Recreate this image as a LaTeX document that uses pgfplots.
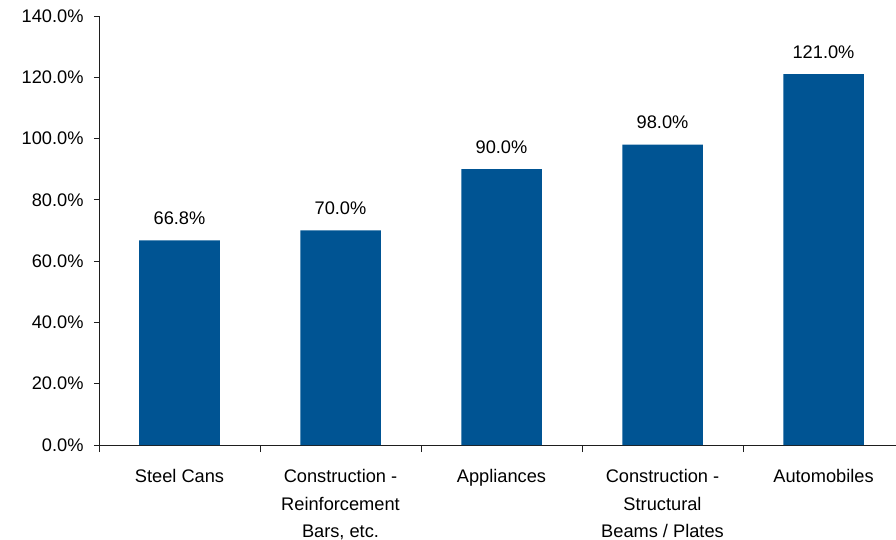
\documentclass[border=0pt]{standalone}
\usepackage{pgfplots}
\pgfplotsset{compat=1.18}
\usepackage{fontspec}
\setmainfont{Liberation Sans}
\definecolor{barblue}{RGB}{0,84,147}
\definecolor{axisgray}{RGB}{30,30,30}
\begin{document}
\begin{tikzpicture}
\begin{axis}[
  at={(0,0)}, anchor=south west,
  scale only axis,
  x=161bp, y=3.0643bp,
  xmin=-0.5, xmax=4.45,
  ymin=0, ymax=140,
  axis x line*=bottom, axis y line*=left,
  axis line style={axisgray, line width=0.8pt, -},
  ytick={0,20,...,140},
  yticklabel={\pgfmathprintnumber[fixed,fixed zerofill,precision=1]{\tick}\%},
  /pgf/number format/assume math mode=true,
  tick align=outside,
  major tick length=5bp,
  minor tick length=7bp,
  tick style={axisgray, line width=0.8pt},
  xtick={0,1,2,3,4},
  xticklabels={{Steel Cans}, {Construction -\\Reinforcement\\Bars, etc.}, {Appliances}, {Construction -\\Structural\\Beams / Plates}, {Automobiles}},
  minor xtick={-0.5,0.5,1.5,2.5,3.5,4.5},
  every major x tick/.append style={draw=none},
  xticklabel style={align=center, font=\fontsize{18.3}{27.5}\selectfont, yshift=-16bp, text=black},
  yticklabel style={font=\fontsize{18.3}{21}\selectfont, xshift=-7bp, text=black},
  ybar, bar width=0.5,
  nodes near coords={\pgfmathprintnumber[fixed,fixed zerofill,precision=1]{\pgfplotspointmeta}\%},
  every node near coord/.append style={font=\fontsize{18.3}{21}\selectfont, text=black, yshift=12bp},
  clip=false,
]
\addplot[fill=barblue, draw=none] coordinates {(0,66.8) (1,70.0) (2,90.0) (3,98.0) (4,121.0)};
\end{axis}
\pgfresetboundingbox
\path[use as bounding box] (-99bp,-95bp) rectangle (797bp,445bp);
\end{tikzpicture}
\end{document}
